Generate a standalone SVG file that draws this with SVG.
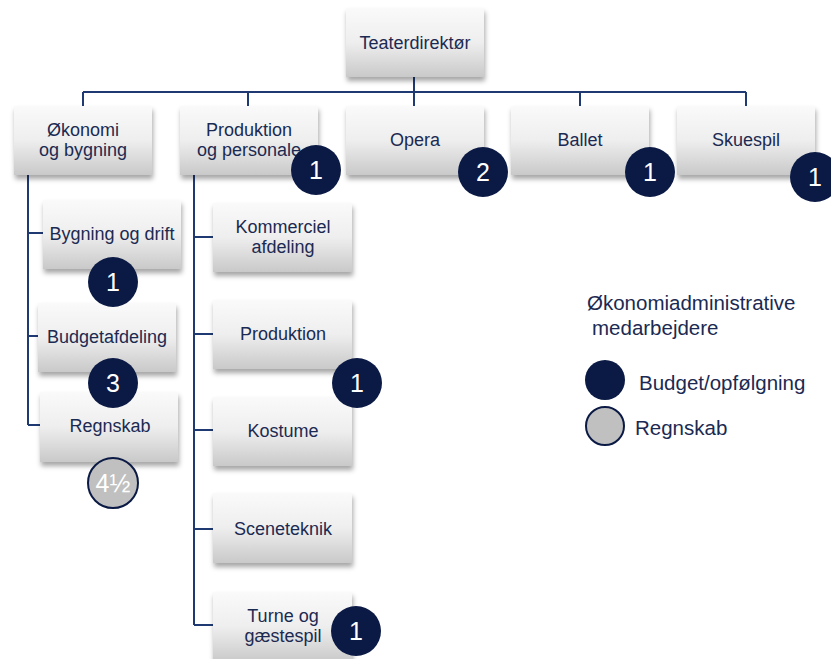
<svg xmlns="http://www.w3.org/2000/svg" width="831" height="659" viewBox="0 0 831 659">
<defs>
<linearGradient id="g" x1="0" y1="0" x2="0" y2="1">
<stop offset="0" stop-color="#fafafa"/>
<stop offset="0.5" stop-color="#eeeeee"/>
<stop offset="1" stop-color="#c9c9c9"/>
</linearGradient>
<filter id="sh" x="-10%" y="-10%" width="125%" height="135%">
<feDropShadow dx="1" dy="4" stdDeviation="2.5" flood-color="#000" flood-opacity="0.35"/>
</filter>
</defs>
<style>
.box{fill:url(#g);filter:url(#sh)}
.t{font-family:"Liberation Sans",Arial,sans-serif;font-size:18px;fill:#1b2a52;text-anchor:middle}
.lg{font-family:"Liberation Sans",Arial,sans-serif;font-size:20.5px;fill:#1b2a52}
.c{stroke:#1f3a72;stroke-width:2;fill:none}
.b{fill:#0b1a45}
.g{fill:#c0c0c0;stroke:#0b1a45;stroke-width:2}
.bt{font-family:"Liberation Sans",Arial,sans-serif;font-size:25px;fill:#fff;text-anchor:middle}
</style>
<rect width="831" height="659" fill="#fff"/>
<g id="connectors" class="c">
<path d="M414 76V92M83 92H746M83 92V106M248 92V106M414 92V106M580 92V106M746 92V106"/>
<path d="M28 175V425M28 233H43M28 336H38M28 425H40"/>
<path d="M194 175V625M194 237H213M194 334H213M194 430H213M194 529H213M194 625H213"/>
</g>
<g id="n-teater"><rect class="box" x="346" y="8" width="138" height="69"/><text class="t" x="415" y="49">Teaterdirektør</text></g>
<g id="n-okonomi"><rect class="box" x="14" y="106" width="138" height="69"/><text class="t" x="83" y="136">Økonomi</text><text class="t" x="83" y="156">og bygning</text></g>
<g id="n-produktion-personale"><rect class="box" x="180" y="106" width="138" height="69"/><text class="t" x="249" y="136">Produktion</text><text class="t" x="249" y="156">og personale</text></g>
<g id="n-opera"><rect class="box" x="346" y="106" width="138" height="69"/><text class="t" x="415" y="146">Opera</text></g>
<g id="n-ballet"><rect class="box" x="511" y="106" width="138" height="69"/><text class="t" x="580" y="146">Ballet</text></g>
<g id="n-skuespil"><rect class="box" x="677" y="106" width="138" height="69"/><text class="t" x="746" y="146">Skuespil</text></g>
<g id="n-bygning"><rect class="box" x="43" y="200" width="138" height="69"/><text class="t" x="112" y="240">Bygning og drift</text></g>
<g id="n-budget"><rect class="box" x="38" y="303" width="138" height="69"/><text class="t" x="107" y="343">Budgetafdeling</text></g>
<g id="n-regnskab"><rect class="box" x="40" y="392" width="138" height="70"/><text class="t" x="110" y="432">Regnskab</text></g>
<g id="n-kommerciel"><rect class="box" x="213" y="203" width="139" height="69"/><text class="t" x="283" y="233">Kommerciel</text><text class="t" x="283" y="253">afdeling</text></g>
<g id="n-produktion"><rect class="box" x="213" y="300" width="139" height="69"/><text class="t" x="283" y="340">Produktion</text></g>
<g id="n-kostume"><rect class="box" x="213" y="397" width="139" height="69"/><text class="t" x="283" y="437">Kostume</text></g>
<g id="n-sceneteknik"><rect class="box" x="213" y="493" width="139" height="70"/><text class="t" x="283" y="535">Sceneteknik</text></g>
<g id="n-turne"><rect class="box" x="213" y="592" width="139" height="70"/><text class="t" x="283" y="622">Turne og</text><text class="t" x="283" y="642">gæstespil</text></g>
<g id="badges">
<circle class="b" cx="316" cy="170" r="25"/><text class="bt" x="316" y="179">1</text>
<circle class="b" cx="483" cy="172" r="25"/><text class="bt" x="483" y="181">2</text>
<circle class="b" cx="650" cy="172" r="25"/><text class="bt" x="650" y="181">1</text>
<circle class="b" cx="815" cy="177" r="25"/><text class="bt" x="815" y="186">1</text>
<circle class="b" cx="113" cy="282" r="25"/><text class="bt" x="113" y="291">1</text>
<circle class="b" cx="113" cy="383" r="25"/><text class="bt" x="113" y="392">3</text>
<circle class="g" cx="113" cy="483" r="25"/><text class="bt" x="113" y="492">4½</text>
<circle class="b" cx="357" cy="383" r="25"/><text class="bt" x="357" y="392">1</text>
<circle class="b" cx="356" cy="631" r="25"/><text class="bt" x="356" y="640">1</text>
</g>
<g id="legend">
<text class="lg" x="587" y="310">Økonomiadministrative</text>
<text class="lg" x="592" y="335">medarbejdere</text>
<circle class="b" cx="605" cy="380" r="20"/>
<text class="lg" x="639" y="390">Budget/opfølgning</text>
<circle class="g" cx="605" cy="426" r="19"/>
<text class="lg" x="635" y="435">Regnskab</text>
</g>
</svg>
